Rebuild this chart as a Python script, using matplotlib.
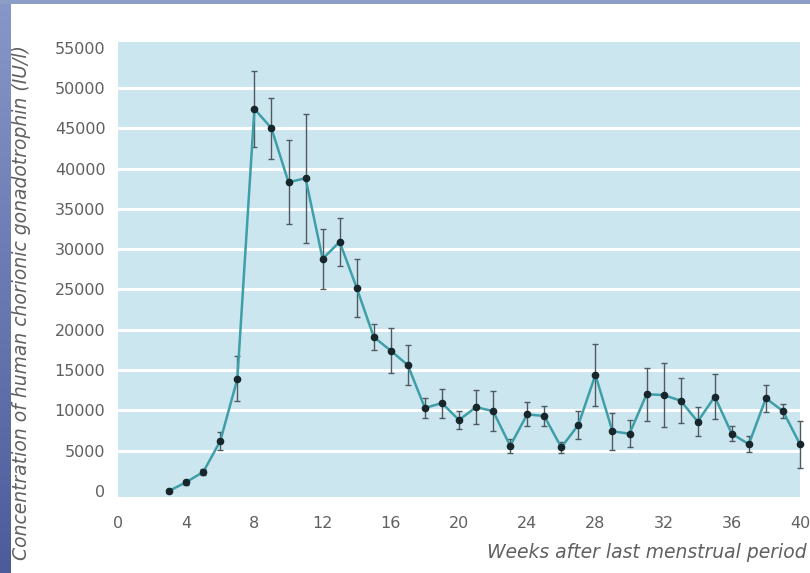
import numpy as np
import matplotlib
matplotlib.use("Agg")
import matplotlib.pyplot as plt
from matplotlib.patches import Rectangle

# hCG concentration by week
weeks = [3, 4, 5, 6, 7, 8, 9, 10, 11, 12, 13, 14, 15, 16, 17, 18, 19, 20, 21, 22,
         23, 24, 25, 26, 27, 28, 29, 30, 31, 32, 33, 34, 35, 36, 37, 38, 39, 40]
hcg = [0, 1100, 2350, 6200, 13900, 47400, 45000, 38300, 38800, 28800, 30900, 25200,
       19100, 17400, 15600, 10300, 10900, 8800, 10400, 9900, 5600, 9500, 9300, 5400,
       8200, 14400, 7400, 7100, 12000, 11900, 11200, 8600, 11700, 7100, 5800, 11500,
       9900, 5800]
err = [200, 300, 400, 1100, 2800, 4700, 3800, 5200, 8000, 3700, 3000, 3600,
       1600, 2800, 2500, 1200, 1800, 1100, 2100, 2500, 900, 1500, 1300, 700,
       1700, 3800, 2300, 1700, 3300, 4000, 2800, 1800, 2800, 900, 1000, 1700,
       900, 2900]

xticks = [0, 4, 8, 12, 16, 20, 24, 28, 32, 36, 40]
yticks = [0, 5000, 10000, 15000, 20000, 25000, 30000, 35000, 40000, 45000, 50000, 55000]
grid_vals = yticks[1:-1]

txt = '#606060'

fig = plt.figure(figsize=(8.1, 5.73), dpi=100)
fig.patch.set_facecolor('white')

# blue frame strips on the left and top edge
grad = np.linspace(0, 1, 256).reshape(-1, 1)
strip = fig.add_axes([0, 0, 11 / 810, 1])
strip.imshow(grad, aspect='auto', cmap=matplotlib.colors.LinearSegmentedColormap.from_list(
    'b', ['#8797c8', '#4c5c9a']), extent=[0, 1, 0, 1])
strip.axis('off')
fig.add_artist(Rectangle((0, 1 - 4 / 573), 1, 4 / 573, transform=fig.transFigure,
                         facecolor='#8c9dc8', edgecolor='none'))

ax = fig.add_axes([118 / 810, 1 - 497 / 573, 682 / 810, 455 / 573])
ax.set_facecolor('#cce6ef')
for v in grid_vals:
    ax.axhline(v, color='white', lw=2.2, zorder=1)

ax.errorbar(weeks, hcg, yerr=err, fmt='none', ecolor='#4d5a62', elinewidth=1,
            capsize=2.5, capthick=1, zorder=2, clip_on=False)
ax.plot(weeks, hcg, color='#3e9fa8', lw=1.8, zorder=3, clip_on=False)
ax.plot(weeks, hcg, 'o', color='#17262b', ms=4.5, zorder=4, clip_on=False)

ax.set_xlim(0, 40)
ax.set_ylim(-750, 55700)
ax.set_xticks(xticks)
ax.set_yticks(yticks)
ax.tick_params(length=0, colors=txt, labelsize=11.5)
ax.tick_params(axis='y', pad=9)
ax.tick_params(axis='x', pad=14)
for s in ax.spines.values():
    s.set_visible(False)

fig.text(22 / 810, 1 - 302 / 573,
         'Concentration of human chorionic gonadotrophin (IU/l)',
         rotation=90, ha='center', va='center', style='italic', color=txt,
         fontsize=13.5)
fig.text(807 / 810, 1 - 553 / 573, 'Weeks after last menstrual period',
         ha='right', va='center', style='italic', color=txt, fontsize=13.5)

fig.savefig('out.png', dpi=100)
